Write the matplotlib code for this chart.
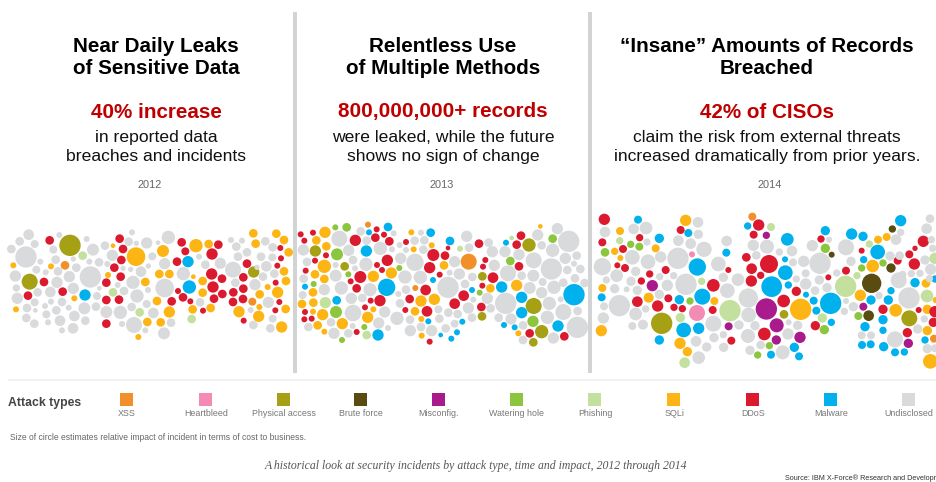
import matplotlib
matplotlib.use("Agg")
import matplotlib.pyplot as plt
from matplotlib.patches import Rectangle

plt.rcParams['font.family'] = ['Liberation Sans', 'DejaVu Sans']

W, H, DPI = 937, 482, 100

attack_types = ['XSS', 'Heartbleed', 'Physical access', 'Brute force', 'Misconfig.',
                'Watering hole', 'Phishing', 'SQLi', 'DDoS', 'Malware', 'Undisclosed']
type_colors = ['#F1902B', '#F48BB4', '#A5A014', '#5A4B10', '#A91B8C',
               '#8CC63F', '#C4E09F', '#FDB515', '#DC1A2F', '#00B1EE', '#D9DADC']

# Each incident: (position along the year, vertical packing position, impact radius)
y2012_undisclosed = [(86,89,16),(59,109,13),(104,117,12),(34,132,13),(78,156,32),(160,134,12),(178,90,9),(260,102,9),(279,134,18),(121,170,9),(167,164,13),(109,194,12),(46,213,17),(137,202,9),(174,199,13),(229,188,13),(268,170,9),(297,172,13),(220,162,8),(208,215,17),(271,216,32),(171,232,17),(49,249,11),(113,262,13),(151,261,16),(220,250,17),(52,280,17),(104,292,12),(135,303,9),(153,290,9),(186,291,13),(81,309,13),(106,316,7),(139,328,12),(169,316,13),(206,308,9),(253,310,18),(288,305,13),(223,333,16),(79,339,13),(103,356,13),(144,352,9),(180,347,16),(256,347,13),(219,370,16),(186,376,9),(291,273,12),(315,122,13),(337,151,17),(386,110,13),(396,82,9),(409,115,8),(440,114,17),(474,113,7),(505,97,20),(457,154,12),(322,177,9),(369,190,8),(392,193,8),(423,200,16),(494,176,17),(445,183,8),(399,232,20),(353,240,9),(298,250,7),(372,258,13),(411,273,20),(444,255,9),(494,249,28),(395,306,13),(440,297,12),(319,321,18),(361,322,20),(460,324,16),(402,360,24),(366,357,9),(436,376,9),(513,353,13),(492,385,18),(550,206,20),(597,155,9),(616,179,13),(661,175,17),(699,194,24),(600,292,13),(706,233,13),(693,105,9),(709,125,13),(726,107,9),(741,142,13),(714,155,13),(796,109,13),(818,127,13),(783,155,13),(817,157,12),(799,184,16),(771,187,8),(789,215,13),(823,206,13),(765,239,17),(805,292,17),(752,315,9),(760,360,13),(818,341,12),(811,370,13)]
y2012_ddos = [(149,106,13),(84,272,13),(132,231,13),(188,260,13),(359,101,13),(369,132,13),(364,165,13),(343,188,13),(362,215,13),(319,233,13),(319,285,13),(357,284,13),(319,356,13),(545,112,13),(556,139,12),(531,170,13),(655,119,13),(636,147,17),(635,207,17),(666,221,13),(639,246,17),(667,267,13),(642,281,13),(534,258,9),(549,277,13),(515,289,13),(571,289,9),(609,317,9),(741,176,13),(730,217,13),(730,251,13),(700,262,13),(729,282,13),(699,291,13),(841,129,9),(843,160,9),(832,182,9),(827,233,9),(838,291,9),(826,316,9),(731,347,9)]
y2012_sqli = [(40,181,9),(153,184,9),(223,280,9),(48,313,9),(339,122,7),(408,155,28),(489,138,18),(588,122,20),(626,117,13),(760,85,13),(767,116,13),(829,86,13),(852,105,13),(866,142,13),(852,199,13),(858,228,13),(803,246,9),(779,268,13),(833,262,17),(478,207,13),(508,207,13),(324,210,9),(436,231,13),(580,215,7),(608,228,13),(608,263,13),(471,288,13),(508,321,17),(578,313,13),(632,309,13),(778,306,9),(717,320,17),(776,334,17),(857,312,13),(845,366,17),(442,351,13),(482,352,13),(415,396,9)]
y2012_physical = [(210,121,32),(89,230,24),(761,201,17)]
y2012_xss = [(195,181,13),(757,290,12)]
y2012_phishing = [(248,152,13),(339,262,13),(419,322,13),(575,342,13)]
y2012_malware = [(255,270,17),(564,170,17),(568,246,20)]

y2013_ddos = [(17,88,9),(54,83,9),(28,107,9),(181,106,17),(241,98,13),(245,73,9),(267,89,9),(283,109,13),(93,151,9),(60,167,9),(32,197,9),(277,166,17),(246,180,9),(261,195,9),(196,216,18),(167,229,9),(185,250,13),(227,287,9),(255,287,17),(210,307,9),(30,321,9),(28,343,9),(50,341,9),(185,381,9),(333,111,9),(415,150,18),(450,152,13),(404,188,17),(434,209,9),(392,255,16),(344,282,13),(331,315,9),(396,319,16),(479,296,16),(506,272,16),(459,129,7),(552,116,13),(571,165,9),(564,185,9),(594,218,16),(562,242,9),(559,306,13),(678,92,13),(665,119,13),(672,184,13),(704,385,13),(808,394,13),(404,410,9)]
y2013_sqli = [(90,82,17),(64,106,13),(94,124,13),(88,184,20),(60,208,13),(88,222,13),(235,214,17),(289,204,17),(54,262,13),(21,297,13),(55,293,13),(54,320,9),(83,329,17),(68,361,13),(88,380,9),(142,356,17),(235,313,9),(218,337,17),(349,82,9),(356,133,9),(410,121,9),(447,181,13),(378,288,17),(418,283,17),(360,319,13),(379,342,9),(380,392,9),(586,250,13),(665,241,17),(670,385,9),(736,64,7)]
y2013_xss = [(219,59,9),(361,249,9),(521,170,24)]
y2013_watering = [(121,67,9),(155,67,13),(126,148,18),(160,208,9),(56,237,9),(123,321,18),(208,366,9),(141,405,9),(313,189,9),(554,263,9),(646,168,13),(773,101,13),(714,349,17)]
y2013_physical = [(61,138,17),(149,184,13),(562,214,13),(561,334,13),(702,120,20),(716,303,24),(740,380,20),(715,412,13)]
y2013_phishing = [(91,293,17),(215,390,13),(495,131,9),(650,99,7)]
y2013_malware = [(279,66,13),(222,82,9),(214,138,17),(407,83,13),(465,108,13),(30,245,9),(275,247,26),(125,286,13),(249,390,17),(400,349,9),(414,225,9),(531,255,9),(502,350,9),(437,390,7),(469,401,9),(486,382,9),(633,113,9),(620,246,17),(680,277,17),(680,323,17),(627,360,9),(659,367,9),(789,363,17),(837,269,32)]
y2013_undisclosed = [(133,101,24),(197,79,13),(296,85,9),(215,107,13),(25,135,17),(161,136,17),(256,130,20),(291,133,9),(36,171,13),(122,180,9),(174,165,13),(213,178,20),(180,190,9),(122,212,18),(26,221,13),(88,254,17),(139,249,20),(225,254,20),(23,270,12),(169,280,17),(202,279,13),(174,324,25),(269,321,17),(40,366,13),(108,352,13),(117,385,17),(160,385,13),(173,363,9),(251,354,17),(279,369,9),(306,340,20),(314,120,9),(317,160,17),(333,135,9),(360,172,26),(359,107,13),(378,83,9),(388,106,13),(385,134,13),(330,216,20),(376,217,20),(310,267,9),(333,254,13),(315,295,13),(345,344,13),(346,377,17),(378,366,13),(410,377,17),(430,313,12),(433,341,13),(460,323,13),(452,370,13),(479,356,12),(488,327,13),(459,247,32),(464,203,9),(493,207,17),(479,170,17),(522,128,13),(515,94,17),(581,113,13),(592,140,17),(598,181,17),(532,216,13),(510,237,13),(535,284,9),(520,309,17),(531,338,13),(587,310,13),(577,280,17),(632,295,32),(639,205,24),(630,140,17),(672,149,17),(716,166,24),(769,192,32),(715,212,18),(680,212,13),(704,249,18),(740,263,17),(743,231,12),(777,247,20),(763,295,20),(728,90,17),(740,121,13),(787,71,17),(773,136,20),(821,109,32),(811,160,17),(845,152,13),(837,176,9),(817,195,13),(856,192,13),(840,220,13),(805,233,13),(869,234,13),(797,283,9),(805,321,24),(848,318,13),(757,337,20),(847,367,32),(611,338,13),(648,342,17),(684,361,13),(775,399,17),(684,405,13)]

y2014_ddos = [(43,43,17),(37,112,12),(99,132,12),(149,98,11),(82,181,9),(105,189,12),(272,75,12),(227,195,12),(179,207,11),(154,228,11),(142,290,16),(203,303,17),(235,280,12),(252,307,11),(277,311,11),(370,241,19),(368,315,12),(415,195,9),(424,407,12),(506,60,17),(491,89,12),(469,157,13),(537,177,27),(485,191,16),(512,211,11),(484,228,17),(619,259,14),(581,288,19),(523,387,19),(676,362,14),(693,102,11),(715,217,9),(768,197,12),(815,137,9),(879,313,14),(923,167,12),(958,148,12),(975,130,8),(1000,109,17),(973,177,17),(986,315,9),(1030,352,14),(952,383,14),(1035,320,17)]
y2014_sqli = [(287,46,17),(90,78,12),(74,139,11),(91,159,9),(197,130,12),(37,249,12),(176,278,15),(34,377,17),(373,288,12),(270,415,17),(292,440,14),(632,313,32),(864,104,12),(890,96,12),(848,183,19),(811,271,17),(917,316,19),(1012,313,14),(1008,235,13),(1012,377,14),(1021,469,22),(1037,285,9)]
y2014_xss = [(487,35,12),(1032,401,12)]
y2014_phishing = [(89,107,11),(335,229,11),(271,338,14),(284,473,16),(420,317,32),(543,66,12),(767,244,32),(697,339,14),(801,212,11),(838,117,11),(1011,273,19),(1035,160,17)]
y2014_watering = [(45,142,13),(122,118,11),(148,125,12),(300,288,11),(538,422,11),(503,450,11),(706,130,14),(703,374,14),(815,189,11),(879,174,11),(805,333,12)]
y2014_heartbleed = [(306,148,9),(321,324,24)]
y2014_misconfig = [(187,242,17),(529,91,11),(529,312,32),(560,361,21),(559,405,14),(630,397,17),(416,364,12),(820,305,12),(955,415,14)]
y2014_physical = [(215,355,32),(582,328,13),(958,340,24)]
y2014_brute = [(845,235,29),(836,332,16),(725,149,9),(907,72,11),(903,189,14)]
y2014_malware = [(144,44,12),(208,100,14),(295,84,12),(35,277,12),(322,186,26),(409,143,12),(337,275,24),(268,284,14),(281,375,22),(326,370,17),(208,405,14),(473,63,11),(592,103,19),(585,163,9),(586,203,22),(545,245,31),(595,240,11),(648,269,9),(671,287,12),(679,317,12),(722,295,32),(724,352,11),(613,427,14),(627,454,12),(543,449,12),(706,77,14),(785,87,17),(819,94,14),(863,141,22),(821,164,11),(843,285,14),(903,257,11),(895,285,14),(879,344,14),(879,376,11),(825,365,14),(816,420,12),(842,418,12),(881,425,14),(915,442,12),(943,441,11),(932,47,17),(975,233,14),(1005,405,11),(1035,222,11)]
y2014_undisclosed = [(45,81,16),(131,72,16),(168,69,19),(324,52,16),(171,111,11),(265,107,16),(302,116,16),(325,88,14),(342,133,23),(410,108,16),(127,157,22),(174,170,22),(212,156,17),(264,160,32),(37,185,26),(137,199,14),(80,212,19),(49,225,11),(123,229,14),(209,215,11),(251,212,11),(232,241,17),(288,238,32),(74,251,14),(110,253,9),(142,256,14),(208,268,14),(88,302,32),(42,304,12),(137,327,19),(167,312,11),(40,339,17),(127,363,12),(159,359,15),(385,177,22),(400,217,14),(444,224,19),(412,257,22),(475,279,29),(476,330,22),(370,356,24),(447,360,14),(372,398,14),(400,389,11),(401,427,14),(318,409,16),(350,426,14),(326,458,19),(490,121,17),(531,125,21),(499,151,13),(568,141,11),(606,138,16),(641,169,17),(609,172,12),(619,222,11),(647,205,12),(647,237,17),(690,175,32),(667,122,17),(717,104,9),(740,204,11),(688,225,14),(711,248,14),(675,257,13),(768,127,24),(783,169,14),(768,288,9),(790,305,14),(763,319,11),(495,362,14),(474,393,21),(512,420,13),(480,436,14),(578,442,21),(594,387,17),(623,361,14),(596,352,9),(815,391,12),(843,391,12),(915,403,24),(867,272,11),(918,104,16),(932,82,11),(900,153,14),(929,152,13),(926,226,24),(938,208,11),(964,206,11),(990,205,11),(957,279,32),(1020,41,13),(1010,71,16),(1024,104,11),(1028,130,11),(1005,165,14),(1022,193,17),(1018,221,11),(983,372,14),(1003,342,11),(1012,431,14),(1035,430,12)]

panel_2012 = {'Physical access': y2012_physical, 'XSS': y2012_xss, 'Phishing': y2012_phishing,
              'SQLi': y2012_sqli, 'DDoS': y2012_ddos, 'Malware': y2012_malware, 'Undisclosed': y2012_undisclosed}
panel_2013 = {'XSS': y2013_xss, 'Physical access': y2013_physical, 'Watering hole': y2013_watering,
              'Phishing': y2013_phishing, 'SQLi': y2013_sqli, 'DDoS': y2013_ddos, 'Malware': y2013_malware,
              'Undisclosed': y2013_undisclosed}
panel_2014 = {'XSS': y2014_xss, 'Heartbleed': y2014_heartbleed, 'Physical access': y2014_physical,
              'Brute force': y2014_brute, 'Misconfig.': y2014_misconfig, 'Watering hole': y2014_watering,
              'Phishing': y2014_phishing, 'SQLi': y2014_sqli, 'DDoS': y2014_ddos, 'Malware': y2014_malware,
              'Undisclosed': y2014_undisclosed}

headings = ['Near Daily Leaks\nof Sensitive Data', 'Relentless Use\nof Multiple Methods',
            '\u201cInsane\u201d Amounts of Records\nBreached']
highlights = ['40% increase', '800,000,000+ records', '42% of CISOs']
bodies = ['in reported data\nbreaches and incidents', 'were leaked, while the future\nshows no sign of change',
          'claim the risk from external threats\nincreased dramatically from prior years.']
years = ['2012', '2013', '2014']

fig = plt.figure(figsize=(W / DPI, H / DPI), dpi=DPI, facecolor='white')
ov = fig.add_axes([0, 0, 1, 1])
ov.set_xlim(0, W)
ov.set_ylim(H, 0)
ov.axis('off')

color_of = dict(zip(attack_types, type_colors))
SCALE = 3.0  # bubble lists are read at 3 units per pixel


def bubbles(panel, left, top):
    """Axes whose limits make one unit a third of a pixel, anchored at (left, top)."""
    w, h = W - left, 177
    ax = fig.add_axes([left / W, 1 - (top + h) / H, w / W, h / H])
    ax.set_xlim(0, w * SCALE)
    ax.set_ylim(h * SCALE, 0)
    ax.axis('off')
    ax.patch.set_alpha(0)
    for name, rows in panel.items():
        xs = [r[0] for r in rows]
        ys = [r[1] for r in rows]
        s = [(2 * r[2] / SCALE * 72 / DPI) ** 2 for r in rows]
        ax.scatter(xs, ys, s=s, color=color_of[name], linewidths=0, clip_on=False, zorder=2)
    return ax


bubbles(panel_2012, 0, 205)
bubbles(panel_2013, 295, 205)
bubbles(panel_2014, 590, 205)

# dividers and rule
for x in (295, 590.5):
    ov.add_patch(Rectangle((x - 2, 12), 4, 361, color='#D2D3D5', lw=0, zorder=5))
ov.add_patch(Rectangle((8, 379), W - 8, 2.2, color='#F1F1F1', lw=0))

centers = [156, 443, 767]
year_x = [150, 442, 770]
for c, yx, head, hi, body, yr in zip(centers, year_x, headings, highlights, bodies, years):
    ov.text(c, 57.5, head, ha='center', va='center', fontsize=14.9, fontweight='bold',
            color='black', linespacing=1.2)
    ov.text(c, 112, hi, ha='center', va='center', fontsize=14.9, fontweight='bold', color='#C00000')
    ov.text(c, 147, body, ha='center', va='center', fontsize=12.6, color='#111111', linespacing=1.36)
    ov.text(yx, 185, yr, ha='center', va='center', fontsize=7.9, color='#666666')

# legend
ov.text(8, 403, 'Attack types', ha='left', va='center', fontsize=8.8, fontweight='bold', color='#444444')
legend_x = [127, 206, 284, 361, 439, 517, 595, 674, 753, 831, 909]
for x, name, col in zip(legend_x, attack_types, type_colors):
    ov.add_patch(Rectangle((x - 6.5, 392.5), 13, 13, color=col, lw=0))
    ov.text(x, 413, name, ha='center', va='center', fontsize=6.4, color='#777777')

ov.text(10, 437, 'Size of circle estimates relative impact of incident in terms of cost to business.',
        ha='left', va='center', fontsize=6.15, color='#666666')
ov.text(476, 466, 'A historical look at security incidents by attack type, time and impact, 2012 through 2014',
        ha='center', va='center', fontsize=8.5, style='italic', color='#555555',
        family=['Liberation Serif', 'DejaVu Serif'])
ov.text(936, 478, 'Source: IBM X-Force\u00ae Research and Developr', ha='right', va='center',
        fontsize=5.25, color='#333333')

fig.savefig('out.png', dpi=DPI)
